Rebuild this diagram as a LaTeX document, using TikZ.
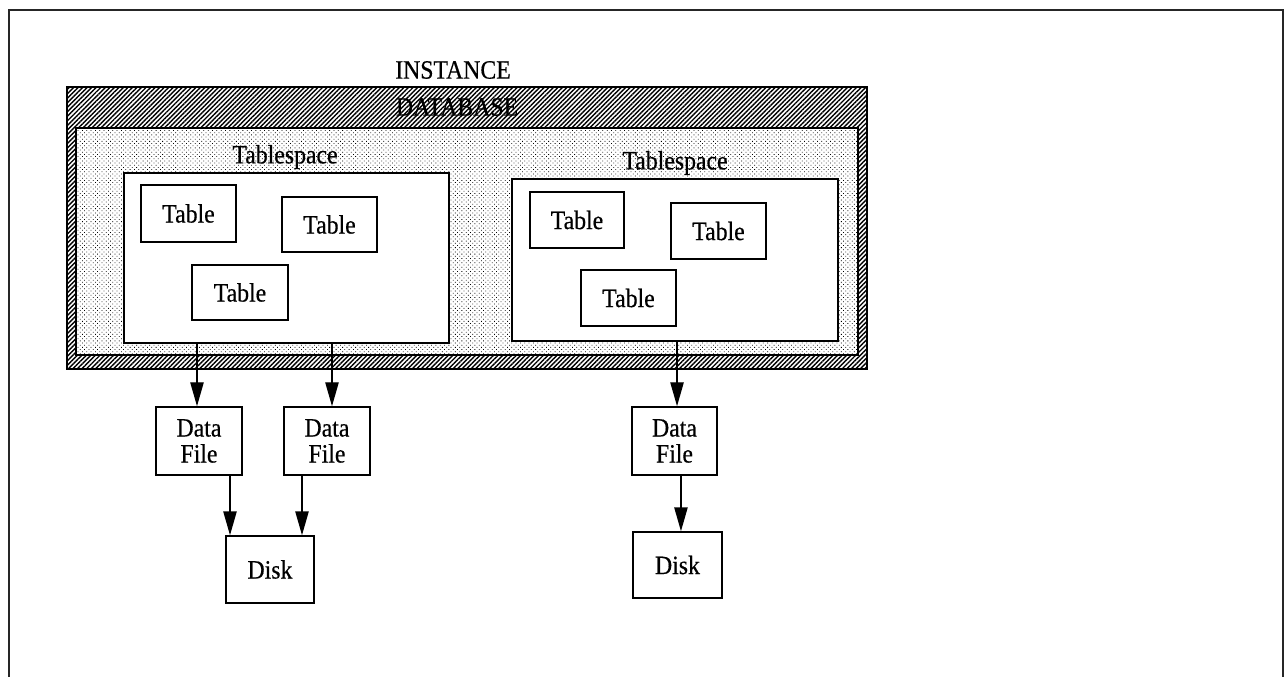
\documentclass[tikz,border=0pt]{standalone}
\usepackage{fontspec}
\setmainfont{Liberation Serif}[FakeStretch=0.9, FakeBold=0.5]
\usetikzlibrary{arrows.meta,patterns.meta}
\begin{document}
\begin{tikzpicture}[x=0.75pt,y=-0.75pt,
  font=\fontsize{19.8}{19.5}\selectfont,
  wh/.style 2 args={minimum width=#1*0.75pt, minimum height=#2*0.75pt},
  box/.style={draw, line width=1.1pt, fill=white, inner sep=0pt, align=center},
  dbband/.style={draw, line width=1.1pt, inner sep=0pt,
    preaction={fill=white},
    pattern={Lines[angle=45,distance=2.4pt,line width=1.05pt]}},
  dbinner/.style={draw, line width=0.8pt, inner sep=0pt,
    preaction={fill=white},
    pattern={Dots[distance=2.3pt,radius=0.42pt,angle=45]}},
  arr/.style={line width=1.1pt, -{Triangle[length=18pt,width=10pt]}},
  lbl/.style={inner sep=0pt}
]
\useasboundingbox (0,0) rectangle (1286,677);

% page frame, open at the bottom
\draw[line width=1.1pt, black!85] (9,677) -- (9,10) -- (1283,10) -- (1283,677);

% instance and database
\node[lbl] (instlbl) at (453,70) {INSTANCE};
\node[dbband, wh={800}{282}] (db) at (467,228) {};
\node[dbinner, wh={782}{227}] (dbin) at (467,241.5) {};
\node[lbl] (dblbl) at (457,107) {DATABASE};

% tablespaces
\node[lbl] (ts1lbl) at (285,157) {Tablespace};
\node[box, wh={325}{170}] (ts1) at (286.5,258) {};
\node[lbl] (ts2lbl) at (675,163) {Tablespace};
\node[box, wh={326}{162}] (ts2) at (675,260) {};

% tables
\node[box, wh={95}{57}] (t11) at (188.5,213.5) {Table};
\node[box, wh={95}{55}] (t12) at (329.5,224.5) {Table};
\node[box, wh={96}{55}] (t13) at (240,292.5) {Table};
\node[box, wh={94}{56}] (t21) at (577,220) {Table};
\node[box, wh={95}{56}] (t22) at (718.5,231) {Table};
\node[box, wh={95}{56}] (t23) at (628.5,298) {Table};

% data files and disks
\node[box, wh={86}{68}] (df1) at (199,441) {Data\\File};
\node[box, wh={86}{68}] (df2) at (327,441) {Data\\File};
\node[box, wh={85}{68}] (df3) at (674.5,441) {Data\\File};
\node[box, wh={88}{67}] (disk1) at (270,569.5) {Disk};
\node[box, wh={89}{66}] (disk2) at (677.5,565) {Disk};

% connectors
\draw[arr] ([xshift=-1.5pt]df1.north |- ts1.south) -- ([xshift=-1.5pt]df1.north);
\draw[arr] ([xshift=3.75pt]df2.north |- ts1.south) -- ([xshift=3.75pt]df2.north);
\draw[arr] ([xshift=1.9pt]df3.north |- ts2.south) -- ([xshift=1.9pt]df3.north);
\draw[arr] ([xshift=-30pt]disk1.north |- df1.south) -- ([xshift=-30pt]disk1.north);
\draw[arr] ([xshift=24pt]disk1.north |- df2.south) -- ([xshift=24pt]disk1.north);
\draw[arr] ([xshift=2.6pt]disk2.north |- df3.south) -- ([xshift=2.6pt]disk2.north);
\end{tikzpicture}
\end{document}
